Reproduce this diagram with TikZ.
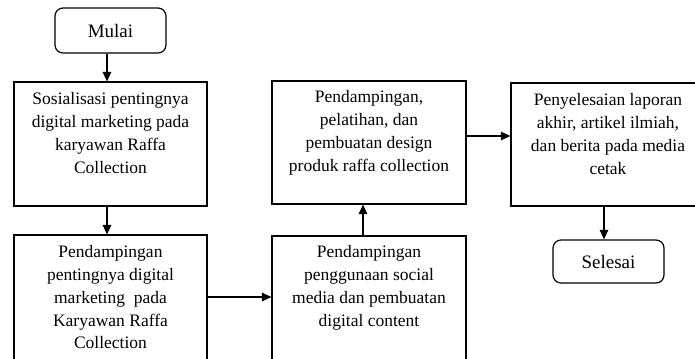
\documentclass[tikz,border=0pt]{standalone}
\usepackage{fontspec}
\setmainfont{Liberation Serif}
\usetikzlibrary{arrows.meta}
\begin{document}
\begin{tikzpicture}[x=1bp,y=-1bp,
  box/.style={draw=black,line width=1.2bp,rectangle,inner sep=0pt},
  term/.style={draw=black,line width=1.2bp,rectangle,rounded corners=8bp,inner sep=0pt,
    minimum width=111bp,font=\fontsize{19bp}{23bp}\selectfont},
  txt/.style={inner sep=0pt,anchor=north,align=center,font=\fontsize{17.5bp}{22.8bp}\selectfont},
  arr/.style={line width=1.2bp,-{Triangle[length=9.5bp,width=8.5bp]}}]
\useasboundingbox (0,0) rectangle (695,358);
\node[term,minimum height=45bp] (m) at (110.5,30.5) {Mulai};
\node[box,minimum width=193bp,minimum height=124bp] (b1) at (110.5,144) {};
\node[box,minimum width=193bp,minimum height=130bp] (b2) at (110.5,300) {};
\node[box,minimum width=194bp,minimum height=128bp] (b3) at (369,300) {};
\node[box,minimum width=194bp,minimum height=123bp] (b4) at (369,142.5) {};
\node[box,minimum width=194bp,minimum height=123bp] (b5) at (608,144.5) {};
\node[term,minimum height=43bp] (s) at (608.5,261.5) {Selesai};
\node[txt] (t1) at ([yshift=-11bp]b1.north) {Sosialisasi pentingnya\\digital marketing pada\\karyawan Raffa\\Collection};
\node[txt] (t2) at ([yshift=-11bp]b2.north) {Pendampingan\\pentingnya digital\\marketing\ \ pada\\Karyawan Raffa\\Collection};
\node[txt] (t3) at ([yshift=-10bp]b3.north) {Pendampingan\\penggunaan social\\media dan pembuatan\\digital content};
\node[txt] (t4) at ([yshift=-10bp]b4.north) {Pendampingan,\\pelatihan, dan\\pembuatan design\\produk raffa collection};
\node[txt] (t5) at ([yshift=-11bp]b5.north) {Penyelesaian laporan\\akhir, artikel ilmiah,\\dan berita pada media\\cetak};
\draw[arr] ([xshift=-3.5bp]m.south) -- ([xshift=-3.5bp]m.south |- b1.north);
\draw[arr] ([xshift=-3.5bp]b1.south) -- ([xshift=-3.5bp]b1.south |- b2.north);
\draw[arr] ([yshift=3bp]b2.east) -- ([yshift=3bp]b2.east -| b3.west);
\draw[arr] ([xshift=-6bp]b3.north) -- ([xshift=-6bp]b3.north |- b4.south);
\draw[arr] ([yshift=6.5bp]b4.east) -- ([yshift=6.5bp]b4.east -| b5.west);
\draw[arr] ([xshift=-4bp]b5.south) -- ([xshift=-4bp]b5.south |- s.north);
\end{tikzpicture}
\end{document}
